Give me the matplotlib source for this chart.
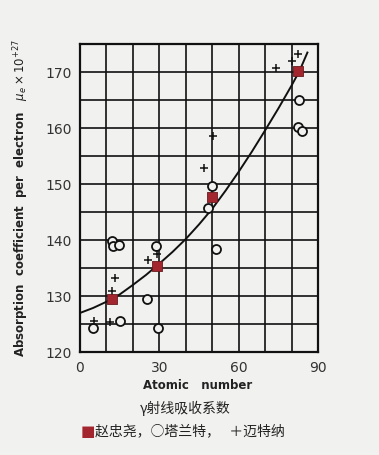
import matplotlib.pyplot as plt

plt.rcParams['font.family'] = ['DejaVu Sans', 'Noto Sans CJK SC']

# 赵忠尧 (squares)
zhao_z = [12.0, 29.0, 50.0, 82.3]
zhao_mu = [129.5, 135.3, 147.7, 170.2]

# 塔兰特 (open circles)
tarrant_z = [5.0, 12.2, 12.6, 14.8, 15.1, 25.5, 28.7, 29.4, 48.5, 51.4, 50.0, 82.9, 82.3, 84.0]
tarrant_mu = [124.3, 139.8, 138.9, 139.2, 125.6, 129.5, 138.9, 124.4, 145.8, 138.4, 149.7, 165.1, 160.2, 159.5]

# 迈特纳 (plus)
meitner_z = [5.4, 11.3, 12.2, 13.2, 25.8, 29.0, 47.0, 50.4, 74.0, 80.3, 82.3]
meitner_mu = [125.6, 125.4, 130.9, 133.2, 136.4, 137.5, 152.9, 158.6, 170.8, 172.0, 173.3]

# theory curve
curve_z = [0, 5, 10, 15, 20, 25, 30, 35, 40, 45, 50, 55, 60, 65, 70, 75, 80, 83, 86]
curve_mu = [127.0, 127.9, 129.0, 130.3, 132.0, 133.8, 135.8, 137.9, 140.2, 142.8, 145.6,
            148.8, 152.2, 155.8, 159.6, 163.5, 167.6, 170.2, 173.5]

bg = '#f1f1ef'
fig = plt.figure(figsize=(3.79, 4.55), dpi=100, facecolor=bg)
ax = fig.add_axes([0.211, 0.226, 0.628, 0.677], facecolor=bg)

ax.plot(curve_z, curve_mu, color='#111111', lw=1.4, zorder=3)
ax.scatter(tarrant_z, tarrant_mu, s=42, facecolors=bg, edgecolors='#111111', linewidths=1.3, zorder=4)
ax.scatter(meitner_z, meitner_mu, s=40, marker='+', color='#111111', linewidths=1.1, zorder=4)
ax.scatter(zhao_z, zhao_mu, s=52, marker='s', color='#a3262e', edgecolors='#6a1a1e', linewidths=0.6, zorder=5)

ax.set_xlim(0, 90)
ax.set_ylim(120, 175)
ax.set_xticks([0, 30, 60, 90])
ax.set_yticks([120, 130, 140, 150, 160, 170])
ax.set_xticks(range(0, 91, 10), minor=True)
ax.set_yticks(range(120, 176, 5), minor=True)
ax.grid(which='both', color='#111111', lw=1.2)
ax.set_axisbelow(True)
ax.tick_params(which='both', length=0, labelsize=10, colors='#333333', pad=6)
for s in ax.spines.values():
    s.set_linewidth(1.6)
    s.set_color('#111111')

ax.set_ylabel(r'Absorption  coefficient  per  electron   $\mu_e\times10^{+27}$',
              fontsize=8.5, fontweight='bold', color='#222222', labelpad=10)

fig.text(0.522, 0.145, 'Atomic   number', ha='center', fontsize=8.5, fontweight='bold', color='#222222')
fig.text(0.49, 0.093, 'γ射线吸收系数', ha='center', fontsize=10, color='#222222',
         family=['Noto Sans CJK SC', 'DejaVu Sans'])
fig.text(0.213, 0.042, '■', ha='left', fontsize=11, color='#a3262e')
fig.text(0.25, 0.044, '赵忠尧，○塔兰特，   ＋迈特纳', ha='left', fontsize=10, color='#222222',
         family=['Noto Sans CJK SC', 'DejaVu Sans'])

fig.savefig('out.png', dpi=100, facecolor=bg)
